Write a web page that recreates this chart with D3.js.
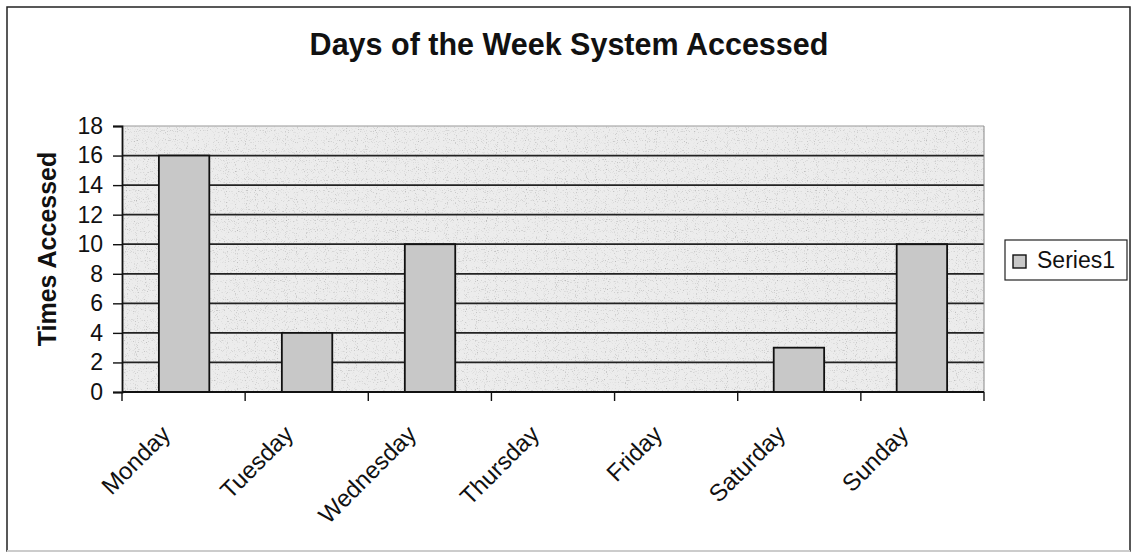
<!DOCTYPE html>
<html>
<head>
<meta charset="utf-8">
<script src="https://cdn.jsdelivr.net/npm/d3@7"></script>
<style>
  body { margin: 0; background: #fff; }
  text { font-family: "Liberation Sans", Arial, sans-serif; fill: #111; }
</style>
</head>
<body>
<div id="vis1"></div>
<script>
// frame constants
const FRAME_WIDTH = 1136;
const FRAME_HEIGHT = 554;
const MARGINS = {left: 122, right: 152, top: 126, bottom: 162};

const VIS_WIDTH = FRAME_WIDTH - MARGINS.left - MARGINS.right;
const VIS_HEIGHT = FRAME_HEIGHT - MARGINS.top - MARGINS.bottom;

// data
const days = ["Monday", "Tuesday", "Wednesday", "Thursday", "Friday", "Saturday", "Sunday"];
const timesAccessed = [16, 4, 10, 0, 0, 3, 10];
const yTicks = [0, 2, 4, 6, 8, 10, 12, 14, 16, 18];
const seriesName = "Series1";

const FRAME = d3.select("#vis1").append("svg")
  .attr("width", FRAME_WIDTH)
  .attr("height", FRAME_HEIGHT);

// scan-like stipple
const defs = FRAME.append("defs");
const f = defs.append("filter").attr("id", "grain").attr("x", 0).attr("y", 0)
  .attr("width", 1).attr("height", 1);
f.append("feTurbulence").attr("type", "fractalNoise").attr("baseFrequency", 0.9)
  .attr("numOctaves", 1).attr("seed", 3).attr("result", "n");
f.append("feColorMatrix").attr("in", "n").attr("type", "matrix")
  .attr("values", "0 0 0 0 0.35  0 0 0 0 0.35  0 0 0 0 0.35  0 0 0 -3 1.25").attr("result", "dots");
f.append("feComposite").attr("in", "dots").attr("in2", "SourceGraphic").attr("operator", "over");

// outer border
FRAME.append("rect")
  .attr("x", 7).attr("y", 7)
  .attr("width", 1123).attr("height", 544)
  .attr("fill", "none")
  .attr("stroke", "#222")
  .attr("stroke-width", 1.5);
FRAME.append("line")
  .attr("x1", 7).attr("x2", 1130).attr("y1", 551).attr("y2", 551)
  .attr("stroke", "#ccc").attr("stroke-width", 2);

// scales
const X_SCALE = d3.scaleBand()
  .domain(days)
  .range([0, VIS_WIDTH])
  .paddingInner(0.59)
  .paddingOuter(0.3);

const Y_SCALE = d3.scaleLinear()
  .domain([0, 18])
  .range([VIS_HEIGHT, 0]);

const plot = FRAME.append("g")
  .attr("transform", "translate(" + MARGINS.left + "," + MARGINS.top + ")");

// plot background
plot.append("rect")
  .attr("width", VIS_WIDTH).attr("height", VIS_HEIGHT)
  .attr("fill", "#ececec")
  .attr("filter", "url(#grain)");

// gridlines
plot.selectAll(".grid")
  .data(yTicks.filter(d => d > 0 && d < 18))
  .enter().append("line")
    .attr("x1", 0).attr("x2", VIS_WIDTH)
    .attr("y1", d => Y_SCALE(d)).attr("y2", d => Y_SCALE(d))
    .attr("stroke", "#222").attr("stroke-width", 1.7);

// top and right plot edges (light)
plot.append("line")
  .attr("x1", 0).attr("x2", VIS_WIDTH).attr("y1", 0).attr("y2", 0)
  .attr("stroke", "#999").attr("stroke-width", 1);
plot.append("line")
  .attr("x1", VIS_WIDTH).attr("x2", VIS_WIDTH).attr("y1", 0).attr("y2", VIS_HEIGHT)
  .attr("stroke", "#888").attr("stroke-width", 1);

// bars
plot.selectAll(".bar")
  .data(timesAccessed)
  .enter().append("rect")
    .attr("x", (d, i) => X_SCALE(days[i]))
    .attr("y", d => Y_SCALE(d))
    .attr("width", X_SCALE.bandwidth())
    .attr("height", d => VIS_HEIGHT - Y_SCALE(d))
    .attr("fill", "#c8c8c8")
    .attr("stroke", "#111")
    .attr("stroke-width", 1.8);

// y axis
const yAxis = plot.append("g")
  .call(d3.axisLeft(Y_SCALE).tickValues(yTicks).tickSize(9).tickPadding(10));
yAxis.select(".domain").attr("stroke", "#111").attr("stroke-width", 1.8);
yAxis.selectAll(".tick line").attr("stroke", "#111").attr("stroke-width", 1.4);
yAxis.selectAll("text")
  .attr("font-size", "23px")
  .attr("font-family", "Liberation Sans, Arial, sans-serif")
  .attr("fill", "#111");

// x axis: ticks at band edges
const edges = d3.range(days.length + 1).map(i => i * VIS_WIDTH / days.length);
const xAxis = plot.append("g").attr("transform", "translate(0," + VIS_HEIGHT + ")");
xAxis.append("line")
  .attr("x1", 0).attr("x2", VIS_WIDTH)
  .attr("stroke", "#111").attr("stroke-width", 1.8);
xAxis.selectAll(".xt")
  .data(edges)
  .enter().append("line")
    .attr("x1", d => d).attr("x2", d => d)
    .attr("y1", 0).attr("y2", 9)
    .attr("stroke", "#111").attr("stroke-width", 1.4);
xAxis.selectAll(".xl")
  .data(days)
  .enter().append("text")
    .attr("transform", d => "translate(" + (X_SCALE(d) + X_SCALE.bandwidth() / 2 - 25) + ",31) rotate(-45)")
    .attr("text-anchor", "end")
    .attr("dy", "0.75em")
    .attr("font-size", "24px")
    .text(d => d);

// title
FRAME.append("text")
  .attr("x", 569).attr("y", 55)
  .attr("text-anchor", "middle")
  .attr("font-size", "30.5px")
  .attr("font-weight", "bold")
  .attr("fill", "#333")
  .text("Days of the Week System Accessed");

// y label
FRAME.append("text")
  .attr("transform", "translate(56," + (MARGINS.top + VIS_HEIGHT / 2 - 10) + ") rotate(-90)")
  .attr("text-anchor", "middle")
  .attr("font-size", "25px")
  .attr("font-weight", "bold")
  .attr("fill", "#333")
  .text("Times Accessed");

// legend
const legend = FRAME.append("g").attr("transform", "translate(1005,240)");
legend.append("rect")
  .attr("width", 122).attr("height", 40)
  .attr("fill", "#fff").attr("stroke", "#222").attr("stroke-width", 1.2);
legend.append("rect")
  .attr("x", 8).attr("y", 15).attr("width", 13).attr("height", 13)
  .attr("fill", "#c8c8c8").attr("stroke", "#111").attr("stroke-width", 1.4);
legend.append("text")
  .attr("x", 32).attr("y", 28)
  .attr("font-size", "23px")
  .text(seriesName);
</script>
</body>
</html>
